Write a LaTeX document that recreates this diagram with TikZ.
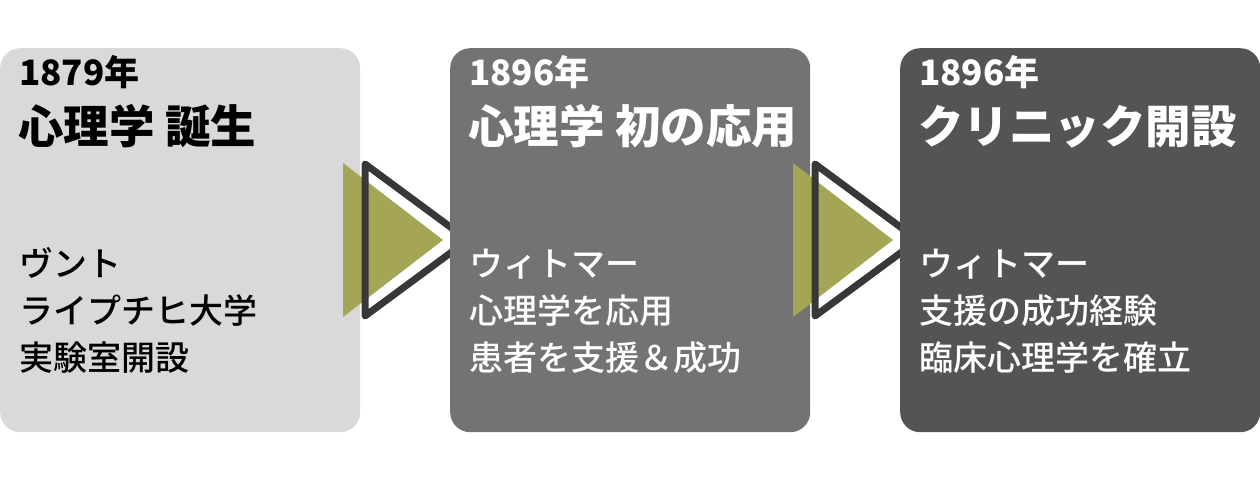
\documentclass[tikz,border=0pt]{standalone}
\usepackage{fontspec}
\setmainfont{Noto Sans CJK JP}
\newfontfamily\medfont{Noto Sans CJK JP}[UprightFont=* Medium]
\definecolor{cA}{HTML}{D9D9D9}
\definecolor{cB}{HTML}{737373}
\definecolor{cC}{HTML}{545454}
\definecolor{olive}{HTML}{A5A556}
\definecolor{edge}{HTML}{383838}
\begin{document}
\begin{tikzpicture}[x=1pt,y=-1pt,
  panel/.style={rounded corners=20pt, minimum width=360pt, minimum height=384pt, inner sep=0pt, anchor=north west, draw=none},
  yeartxt/.style={anchor=base west, inner sep=0pt, font=\fontsize{35}{40}\selectfont\bfseries},
  titletxt/.style={anchor=base west, inner sep=0pt, font=\fontsize{45.5}{50}\selectfont\bfseries},
  bodytxt/.style={anchor=base west, inner sep=0pt, font=\fontsize{34}{40}\medfont},
  olivetri/.style={fill=olive, draw=none},
  outlinetri/.style={draw=edge, line width=7pt, line join=round, fill=none}]
\useasboundingbox (0,0) rectangle (1260,480);
\fill[white] (0,0) rectangle (1260,480);
% box 1
\node[panel, fill=cA] (b1) at (0,48) {};
\node[yeartxt, text=black] (y1) at (19,85) {1879年};
\node[titletxt, text=black] (t1) at (18,143) {心理学 誕生};
\node[bodytxt, text=black] (a1) at (19,276) {ヴント};
\node[bodytxt, text=black] (a2) at (19,323) {ライプチヒ大学};
\node[bodytxt, text=black] (a3) at (19,370) {実験室開設};
% arrow 1
\fill[olivetri] (343,163) coordinate (o1a) -- (443,240) coordinate (o1b) -- (343,317) coordinate (o1c) -- cycle;
\draw[outlinetri] (365,164) coordinate (p1a) -- (468,240) coordinate (p1b) -- (365,316) coordinate (p1c) -- cycle;
% box 2
\node[panel, fill=cB] (b2) at (450,48) {};
\node[yeartxt, text=white] (y2) at (469,85) {1896年};
\node[titletxt, text=white] (t2) at (468,143) {心理学 初の応用};
\node[bodytxt, text=white] (c1) at (469,276) {ウィトマー};
\node[bodytxt, text=white] (c2) at (469,323) {心理学を応用};
\node[bodytxt, text=white] (c3) at (469,370) {患者を支援＆成功};
% arrow 2
\fill[olivetri] (793,163) coordinate (o2a) -- (893,240) coordinate (o2b) -- (793,317) coordinate (o2c) -- cycle;
\draw[outlinetri] (815,164) coordinate (p2a) -- (918,240) coordinate (p2b) -- (815,316) coordinate (p2c) -- cycle;
% box 3
\node[panel, fill=cC] (b3) at (900,48) {};
\node[yeartxt, text=white] (y3) at (919,85) {1896年};
\node[titletxt, text=white] (t3) at (918,143) {クリニック開設};
\node[bodytxt, text=white] (d1) at (919,276) {ウィトマー};
\node[bodytxt, text=white] (d2) at (919,323) {支援の成功経験};
\node[bodytxt, text=white] (d3) at (919,370) {臨床心理学を確立};
\end{tikzpicture}
\end{document}
